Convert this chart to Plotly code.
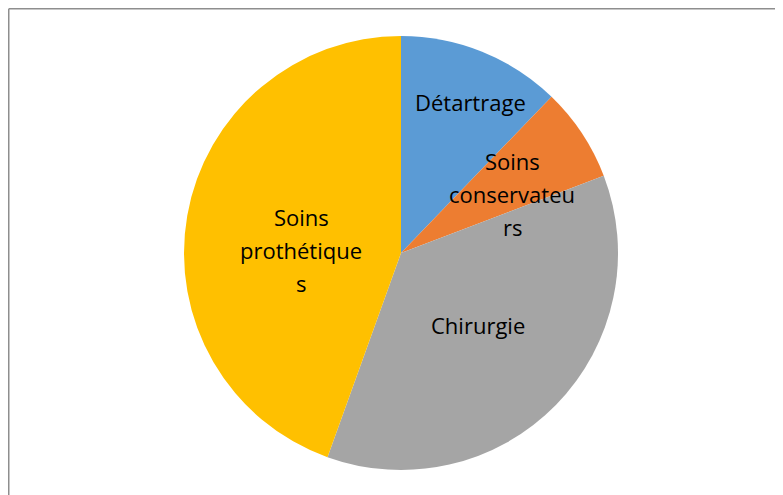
import math
import plotly.graph_objects as go

categories = ["Détartrage", "Soins conservateurs", "Chirurgie", "Soins prothétiques"]
label_lines = [["Détartrage"], ["Soins", "conservateu", "rs"], ["Chirurgie"], ["Soins", "prothétique", "s"]]
values = [12.2, 7.0, 36.3, 44.5]
colors = ["#5B9BD5", "#ED7D31", "#A5A5A5", "#FFC000"]

# page is offset by the 8px body margin in the screenshot
W, H = 783, 495
cx_px, cy_px, r_px = 393, 245, 217
label_radius = [0.766, 0.58, 0.485, 0.46]
label_angle_nudge = [2.7, 5.5, -1.5, -8.0]
line_gap = 33

fig = go.Figure()
fig.add_trace(go.Pie(
    labels=categories,
    values=values,
    sort=False,
    direction="clockwise",
    rotation=0,
    marker=dict(colors=colors, line=dict(width=0)),
    textinfo="none",
    hoverinfo="label+percent",
    showlegend=False,
    domain=dict(x=[(cx_px - r_px) / W, (cx_px + r_px) / W],
                y=[(H - cy_px - r_px) / H, (H - cy_px + r_px) / H]),
))

total = sum(values)
cum = 0.0
for lines, v, f, nudge in zip(label_lines, values, label_radius, label_angle_nudge):
    mid = (cum + v / 2) / total * 2 * math.pi + math.radians(nudge)
    cum += v
    xpx = cx_px + r_px * f * math.sin(mid)
    ypx = cy_px - r_px * f * math.cos(mid)
    n = len(lines)
    for i, txt in enumerate(lines):
        fig.add_annotation(
            x=xpx / W, y=1 - ypx / H, xref="paper", yref="paper",
            text=txt, showarrow=False, align="center",
            yshift=((n - 1) / 2 - i) * line_gap,
            font=dict(family="Open Sans, Lato, sans-serif", size=22, color="#000000"),
            xanchor="center", yanchor="middle",
        )

border = dict(color="#8E8E8E", width=1.5)
fig.add_shape(type="line", xref="paper", yref="paper", x0=0.75 / W, x1=1, y0=1 - 0.75 / H, y1=1 - 0.75 / H, line=border)
fig.add_shape(type="line", xref="paper", yref="paper", x0=0.75 / W, x1=0.75 / W, y0=0, y1=1 - 0.75 / H, line=border)

fig.update_layout(
    width=W, height=H,
    margin=dict(l=0, r=0, t=0, b=0),
    paper_bgcolor="white", plot_bgcolor="white",
)

fig.write_html("out.html")
